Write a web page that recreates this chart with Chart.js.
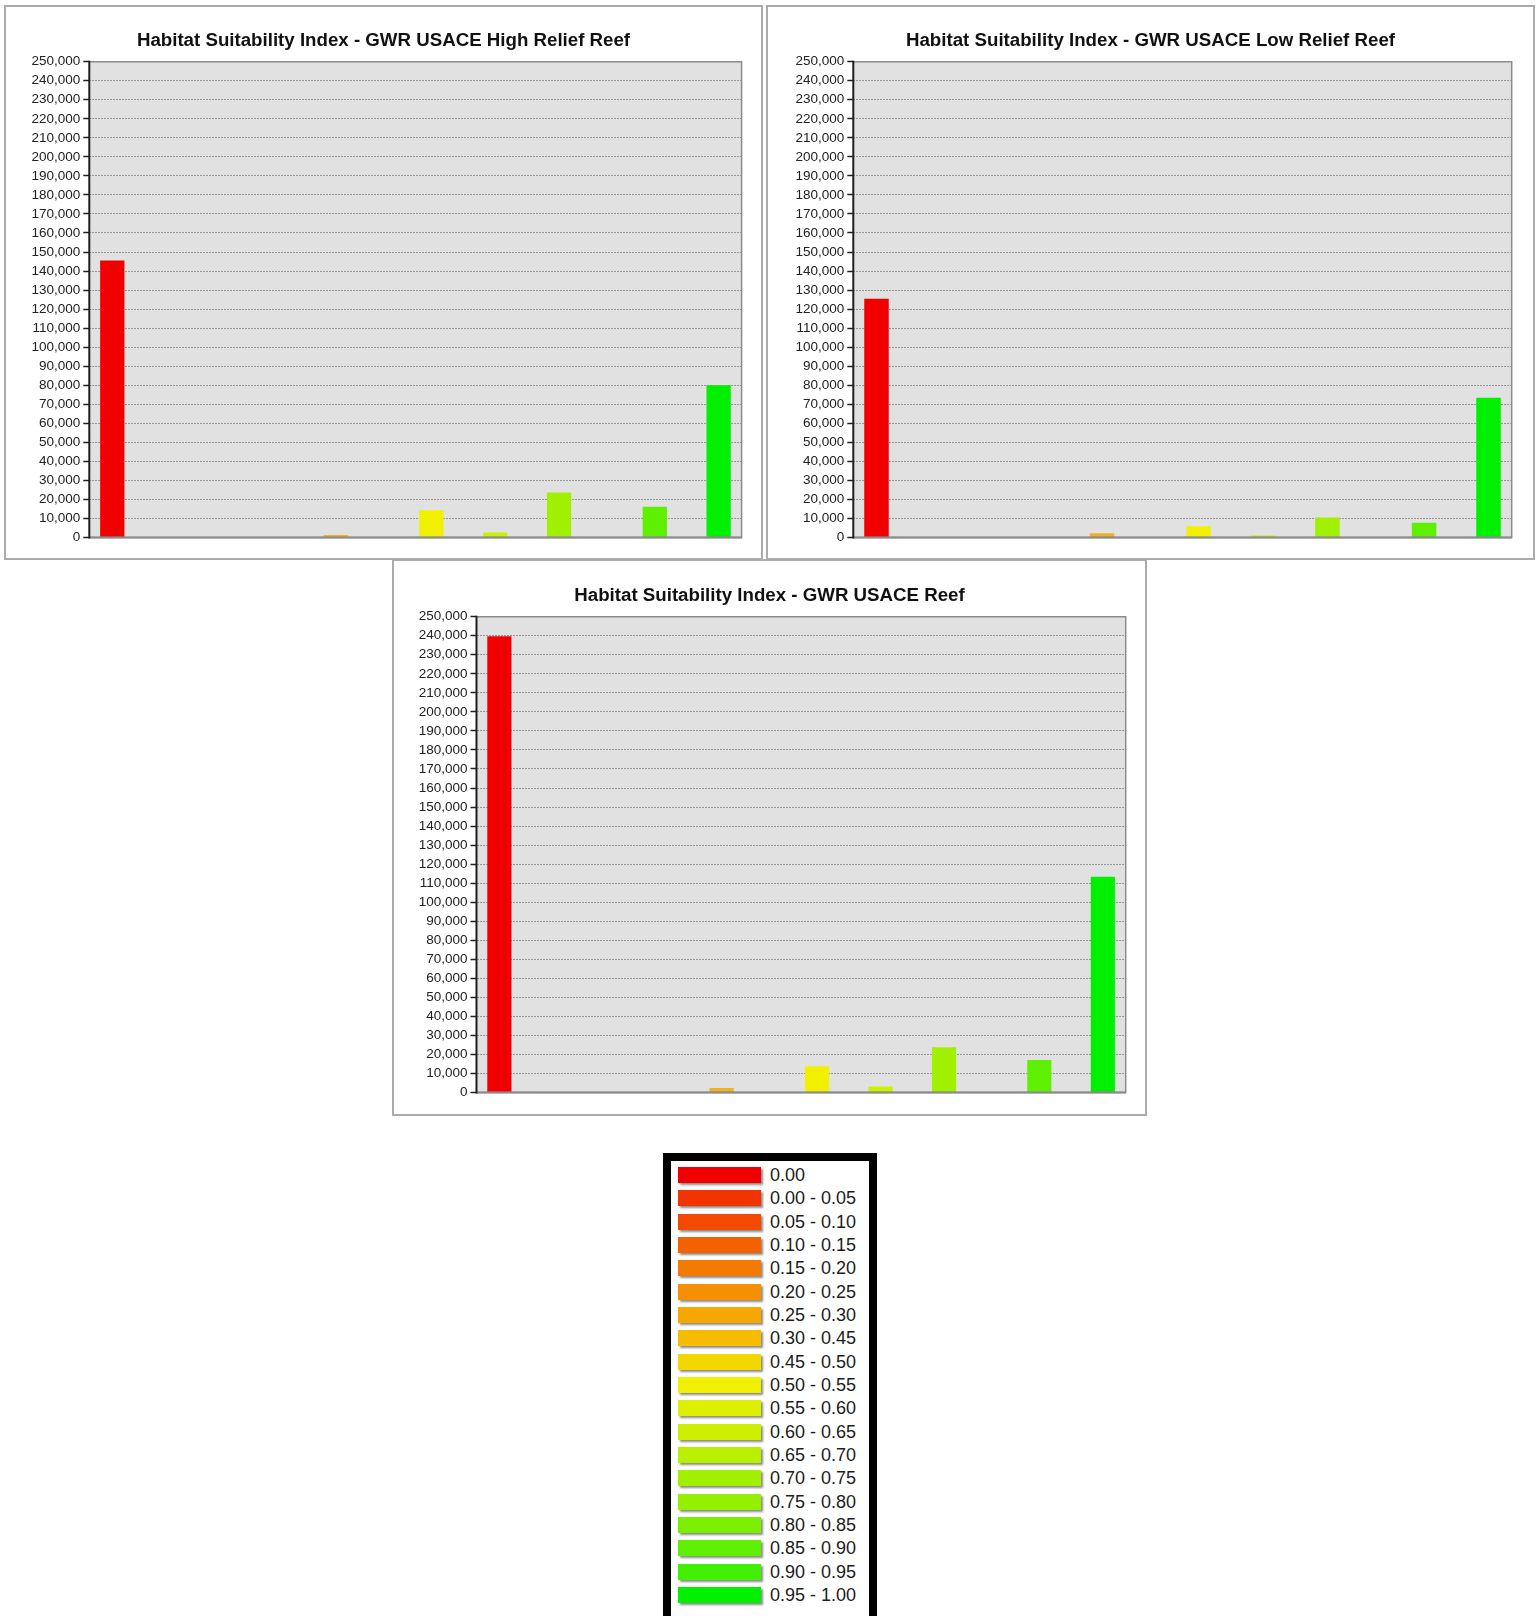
<!DOCTYPE html>
<html>
<head>
<meta charset="utf-8">
<title>Habitat Suitability Index - GWR USACE</title>
<script src="https://cdn.jsdelivr.net/npm/chart.js@4/dist/chart.umd.min.js"></script>
<style>
  html, body { margin: 0; padding: 0; background: #fff; }
  body { width: 1538px; height: 1616px; position: relative; overflow: hidden; }
  .panel { position: absolute; box-sizing: border-box; border: 2px solid #ababab; background: #fff; }
  .panel canvas { display: block; }
  #legend {
    position: absolute; left: 663px; top: 1153px; width: 214px; height: 480px;
    box-sizing: border-box; border: 8px solid #000; background: #fff;
  }
  .lg-row { position: absolute; left: 7px; height: 16px; }
  .lg-swatch {
    position: absolute; left: 0; top: 0; width: 83px; height: 16px;
    box-shadow: 2px 2px 2px rgba(0, 0, 0, 0.45);
  }
  .lg-text {
    position: absolute; left: 92px; top: 0; height: 16px; line-height: 16px;
    white-space: nowrap; color: #1c1c1c;
    font-family: "Liberation Sans Narrow", "Arial Narrow", "Liberation Sans", Arial, sans-serif;
    font-size: 18px;
  }
</style>
</head>
<body>

<div class="panel" id="p1"><canvas id="c1"></canvas></div>
<div class="panel" id="p2"><canvas id="c2"></canvas></div>
<div class="panel" id="p3"><canvas id="c3"></canvas></div>
<div id="legend"></div>

<script>
// HSI value bins on the x axis (bin start values)
const categories = ['0.00', '0.05', '0.10', '0.15', '0.20', '0.25', '0.30', '0.35', '0.40', '0.45',
                    '0.50', '0.55', '0.60', '0.65', '0.70', '0.75', '0.80', '0.85', '0.90', '0.95'];

// Cell counts per bin
const highRelief = [145400, 0, 0, 0, 0, 0, 0, 1200, 0, 0, 14200, 0, 2400, 0, 23500, 0, 0, 16000, 0, 79800];
const lowRelief  = [125300, 0, 0, 0, 0, 0, 0, 2000, 0, 0, 5800, 0, 900, 0, 10300, 0, 0, 7600, 0, 73200];
const reef       = [239600, 0, 0, 0, 0, 0, 0, 2300, 0, 0, 13700, 0, 3000, 0, 23700, 0, 0, 17000, 0, 113200];

// Colour ramp legend
const legendLabels = ['0.00', '0.00 - 0.05', '0.05 - 0.10', '0.10 - 0.15', '0.15 - 0.20', '0.20 - 0.25',
                      '0.25 - 0.30', '0.30 - 0.45', '0.45 - 0.50', '0.50 - 0.55', '0.55 - 0.60', '0.60 - 0.65',
                      '0.65 - 0.70', '0.70 - 0.75', '0.75 - 0.80', '0.80 - 0.85', '0.85 - 0.90', '0.90 - 0.95',
                      '0.95 - 1.00'];
const legendColors = ['#f00000', '#f23400', '#f34a00', '#f46200', '#f57a00', '#f69000',
                      '#f6a800', '#f5bc00', '#f2d800', '#f0f000', '#dcf000', '#ccf000',
                      '#b8f000', '#a0f000', '#92f000', '#7af000', '#5ef000', '#40f000',
                      '#00f000'];

// Bar colour for each x bin
const barColors = ['#f00000', '#f34a00', '#f46200', '#f57a00', '#f69000', '#f6a800', '#f5bc00',
                   '#f0b020', '#f5bc00', '#f2d800', '#f0f000', '#dcf000', '#ccf000', '#b8f000',
                   '#a0f000', '#92f000', '#7af000', '#5ef000', '#40f000', '#00f000'];

const yTicksMax = 250000;
const yTickStep = 10000;

// ---- legend ----
const legendEl = document.getElementById('legend');
legendLabels.forEach((lab, i) => {
  const row = document.createElement('div');
  row.className = 'lg-row';
  row.style.top = (6 + i * 23.33) + 'px';
  const sw = document.createElement('div');
  sw.className = 'lg-swatch';
  sw.style.background = legendColors[i];
  const tx = document.createElement('div');
  tx.className = 'lg-text';
  tx.textContent = lab;
  row.appendChild(sw);
  row.appendChild(tx);
  legendEl.appendChild(row);
});

// ---- charts ----
const FONT = '"Liberation Sans", Arial, sans-serif';
const TITLE_SIZE = 18.7;
const TITLE_LH = 1.2;
const BORDER = 2;
const X_PAD = 0.22;        // empty space at each end of the x range, in bins
const BAR_FRACTION = 0.74; // bar width relative to a bin

// Grey plot background and frame around the plot area
const plotFrame = {
  id: 'plotFrame',
  beforeDraw(chart) {
    const a = chart.chartArea, ctx = chart.ctx;
    ctx.save();
    ctx.fillStyle = '#e1e1e1';
    ctx.fillRect(a.left, a.top, a.right - a.left, a.bottom - a.top);
    ctx.restore();
  },
  afterDatasetsDraw(chart) {
    const a = chart.chartArea, ctx = chart.ctx;
    ctx.save();
    ctx.strokeStyle = '#8c8c8c';
    ctx.lineWidth = 1.5;
    ctx.beginPath();
    ctx.moveTo(a.left, a.top); ctx.lineTo(a.right, a.top);
    ctx.lineTo(a.right, a.bottom); ctx.lineTo(a.left, a.bottom);
    ctx.stroke();
    ctx.strokeStyle = '#8a8a8a';
    ctx.lineWidth = 2;
    ctx.beginPath();
    ctx.moveTo(a.left, a.bottom); ctx.lineTo(a.right, a.bottom);
    ctx.stroke();
    ctx.strokeStyle = '#1e1e1e';
    ctx.lineWidth = 2;
    ctx.beginPath();
    ctx.moveTo(a.left, a.top - 1); ctx.lineTo(a.left, a.bottom + 1);
    ctx.stroke();
    ctx.restore();
  }
};

function buildPanel(panelId, canvasId, box, plot, titleY, titleText, values) {
  const panel = document.getElementById(panelId);
  panel.style.left = box.x + 'px';
  panel.style.top = box.y + 'px';
  panel.style.width = box.w + 'px';
  panel.style.height = box.h + 'px';

  const cx = box.x + BORDER, cy = box.y + BORDER;
  const cw = box.w - 2 * BORDER, ch = box.h - 2 * BORDER;
  const canvas = document.getElementById(canvasId);
  canvas.style.width = cw + 'px';
  canvas.style.height = ch + 'px';

  const L = plot.l - cx;
  const T = plot.t - cy;
  const R = cw - (plot.r - cx);
  const B = ch - (plot.b - cy);
  const lh = TITLE_SIZE * TITLE_LH;
  const tcy = titleY - cy;
  const titlePadTop = tcy - lh / 2;
  const titlePadBottom = T - (tcy + lh / 2);
  const binPx = (plot.r - plot.l) / (categories.length + 2 * X_PAD);

  return new Chart(canvas, {
    type: 'bar',
    data: {
      datasets: [{
        label: titleText,
        data: categories.map((c, i) => ({ x: i, y: values[i] })),
        backgroundColor: barColors,
        borderWidth: 0,
        barThickness: binPx * BAR_FRACTION
      }]
    },
    options: {
      responsive: false,
      animation: false,
      devicePixelRatio: 1,
      // equal side padding keeps the title centred on the whole panel
      layout: { padding: { top: 0, left: R, right: R, bottom: B } },
      plugins: {
        legend: { display: false },
        tooltip: { enabled: false },
        title: {
          display: true,
          text: titleText,
          color: '#111',
          font: { family: FONT, size: TITLE_SIZE, weight: 'bold', lineHeight: TITLE_LH },
          padding: { top: titlePadTop, bottom: titlePadBottom }
        }
      },
      scales: {
        x: {
          type: 'linear',
          display: false,
          offset: false,
          min: -0.5 - X_PAD,
          max: categories.length - 0.5 + X_PAD
        },
        y: {
          min: 0,
          max: yTicksMax,
          afterFit(scale) { scale.width = L - R; },
          ticks: {
            stepSize: yTickStep,
            maxTicksLimit: 40,
            autoSkip: false,
            padding: 3,
            color: '#222',
            font: { family: FONT, size: 13.5 },
            callback: (v) => Number(v).toLocaleString('en-US')
          },
          grid: {
            color: '#969696',
            lineWidth: 1,
            drawTicks: true,
            tickLength: 6,
            tickColor: '#222',
            tickWidth: 1.5
          },
          border: { display: false, dash: [2, 1] }
        }
      }
    },
    plugins: [plotFrame]
  });
}

buildPanel('p1', 'c1',
  { x: 4, y: 5, w: 759, h: 555 },
  { l: 89.3, t: 61.7, r: 741.6, b: 537.5 },
  40.5, 'Habitat Suitability Index - GWR USACE High Relief Reef', highRelief);

buildPanel('p2', 'c2',
  { x: 766, y: 5, w: 769, h: 555 },
  { l: 853.3, t: 61.7, r: 1511.7, b: 537.5 },
  40.5, 'Habitat Suitability Index - GWR USACE Low Relief Reef', lowRelief);

buildPanel('p3', 'c3',
  { x: 392, y: 559, w: 755, h: 557 },
  { l: 476.5, t: 616.7, r: 1125.7, b: 1092.6 },
  595.5, 'Habitat Suitability Index - GWR USACE Reef', reef);
</script>
</body>
</html>
